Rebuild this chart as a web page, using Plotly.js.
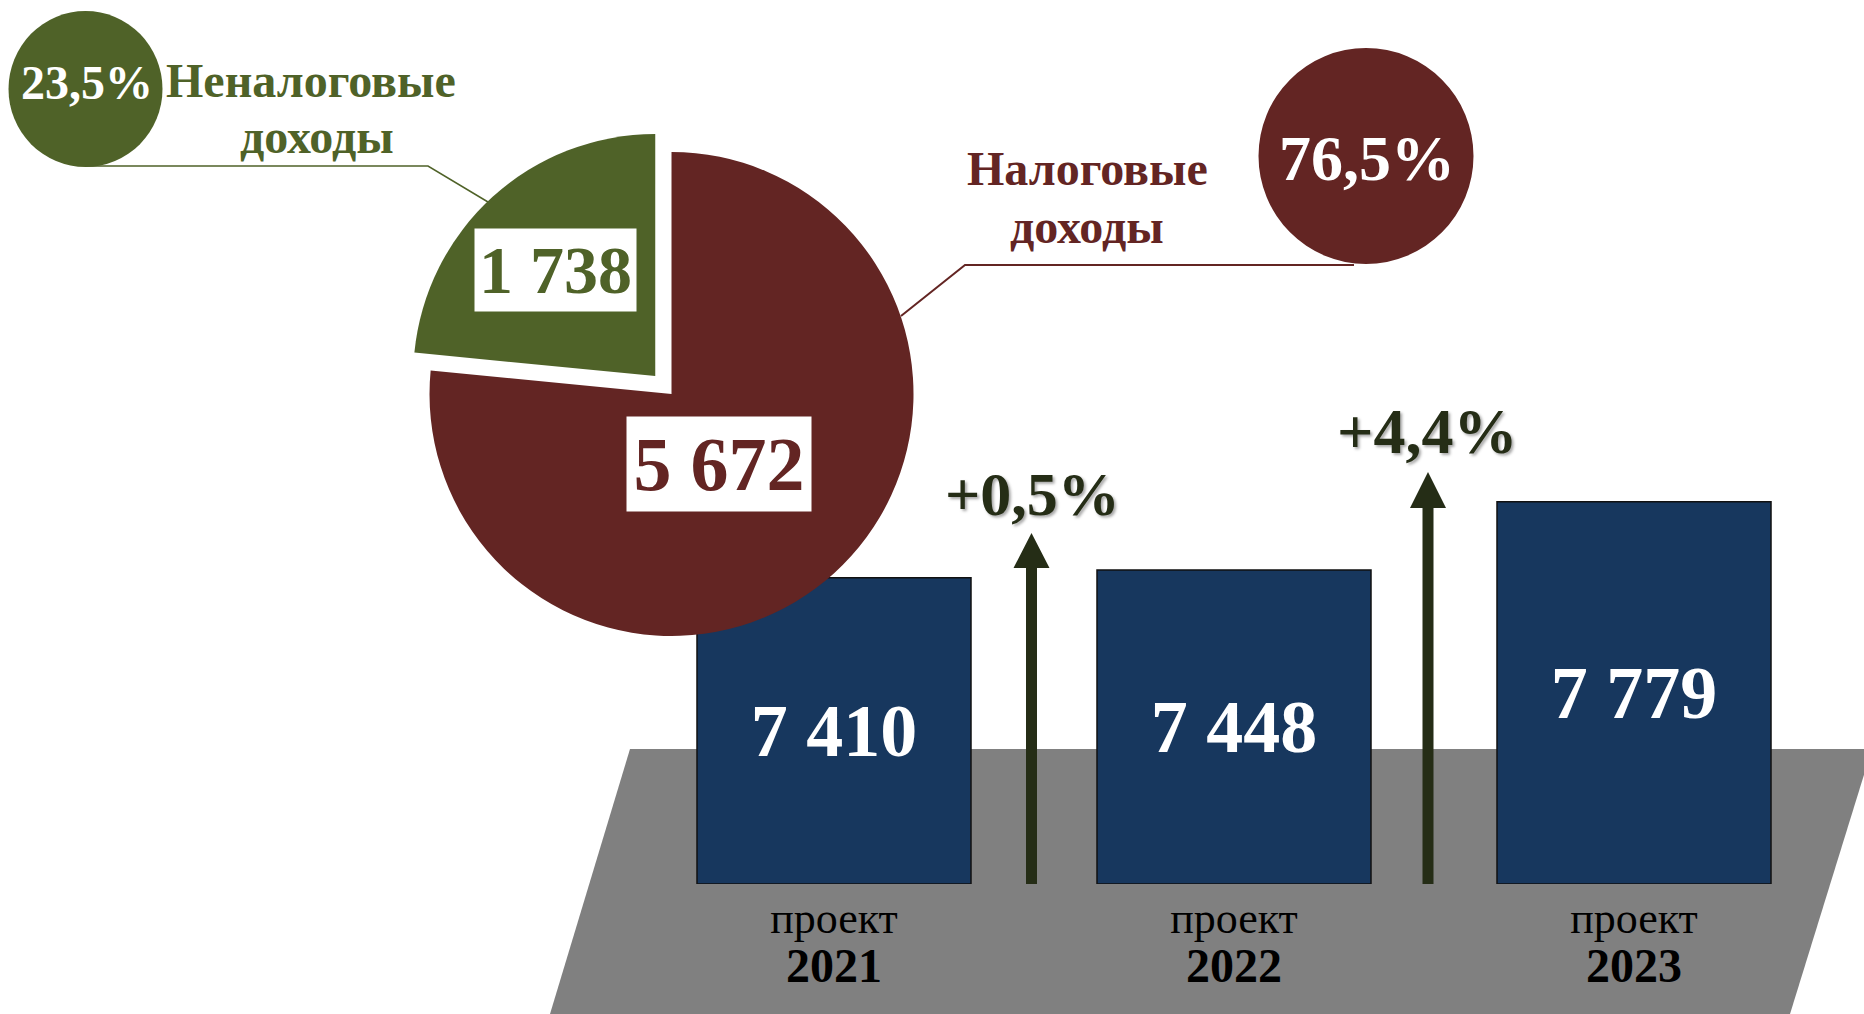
<!DOCTYPE html>
<html><head><meta charset="utf-8">
<script src="https://cdn.plot.ly/plotly-3.0.1.min.js"></script>
<style>html,body{margin:0;padding:0;background:#fff;overflow:hidden}</style>
</head><body><div id="chart" style="width:1864px;height:1014px"></div>
<script>
// ---- data ----
const pieLabels = ["Налоговые доходы", "Неналоговые доходы"];
const pieValues = [5672, 1738];
const years = ["2021", "2022", "2023"];
const yearPrefix = "проект";
const barValues = [7410, 7448, 7779];

// ---- helpers ----
const W = 1864, H = 1014;
const P = x => x / W;           // pixel x -> paper
const Q = y => 1 - y / H;       // pixel y -> paper
const fmt = v => String(v).replace(/\B(?=(\d{3})+(?!\d))/g, ' ');
const pct = v => v.toFixed(1).replace('.', ',') + '%';
const FONT = 'Liberation Serif, Times New Roman, serif';
const RED = '#632523', GREEN = '#4F6228', NAVY = '#17375E', DARK = '#252D16', GRAY = '#808080';

const pieTotal = pieValues.reduce((a, b) => a + b, 0);
const taxPct = pct(pieValues[0] / pieTotal * 100);
const nonTaxPct = pct(pieValues[1] / pieTotal * 100);
const growth = barValues.slice(1).map((v, i) => '+' + pct((v / barValues[i] - 1) * 100));

const barBase = 5925;

const pie = {
  type: 'pie', values: pieValues, labels: pieLabels, sort: false,
  direction: 'clockwise', rotation: 0, pull: [0, 0.1],
  marker: {colors: [RED, GREEN], line: {width: 0}},
  textinfo: 'none', hoverinfo: 'skip', showlegend: false,
  domain: {x: [0.21744, 0.50306], y: [0.34892, 0.87396]}
};

const bars = {
  type: 'bar', x: years, y: barValues.map(v => v - barBase), base: barBase,
  width: 0.685,
  marker: {color: NAVY, line: {color: '#111', width: 1.5}},
  text: barValues.map(fmt), textposition: 'inside', insidetextanchor: 'middle',
  textangle: 0, constraintext: 'none',
  textfont: {family: FONT, size: 74, color: '#fff', weight: 700},
  hoverinfo: 'skip', showlegend: false
};

function arrowPath(xc, yBottom, yHead, yTip) {
  const s = 5.5, h = 18;
  return `M ${P(xc - s)},${Q(yBottom)} L ${P(xc - s)},${Q(yHead)} L ${P(xc - h)},${Q(yHead)} ` +
         `L ${P(xc)},${Q(yTip)} L ${P(xc + h)},${Q(yHead)} L ${P(xc + s)},${Q(yHead)} L ${P(xc + s)},${Q(yBottom)} Z`;
}

const shapes = [
  {type: 'path', xref: 'paper', yref: 'paper', layer: 'below',
   path: `M ${P(630)},${Q(749)} L ${P(1872)},${Q(749)} L ${P(1790)},${Q(1014)} L ${P(550)},${Q(1014)} Z`,
   fillcolor: GRAY, line: {width: 0}},
  {type: 'path', xref: 'paper', yref: 'paper', path: arrowPath(1031.5, 884, 568, 533), fillcolor: DARK, line: {width: 0}},
  {type: 'path', xref: 'paper', yref: 'paper', path: arrowPath(1428, 884, 508, 472), fillcolor: DARK, line: {width: 0}},
  {type: 'circle', xref: 'paper', yref: 'paper', x0: P(8.5), x1: P(162.5), y0: Q(167), y1: Q(11), fillcolor: GREEN, line: {width: 0}},
  {type: 'circle', xref: 'paper', yref: 'paper', x0: P(1258.5), x1: P(1473.5), y0: Q(264), y1: Q(48), fillcolor: RED, line: {width: 0}},
  {type: 'path', xref: 'paper', yref: 'paper',
   path: `M ${P(85)},${Q(166)} L ${P(428)},${Q(166)} L ${P(488)},${Q(202)}`, line: {color: GREEN, width: 1.5}},
  {type: 'path', xref: 'paper', yref: 'paper',
   path: `M ${P(1354)},${Q(265)} L ${P(965)},${Q(265)} L ${P(901)},${Q(316)}`, line: {color: RED, width: 2}}
];

function ann(text, x, y, size, color, extra) {
  return Object.assign({text, x: P(x), y: Q(y), xref: 'paper', yref: 'paper', showarrow: false,
    xanchor: 'center', yanchor: 'middle',
    font: {family: FONT, size, color, weight: 700}}, extra || {});
}

const shadow = '2px 2px 3px rgba(0,0,0,0.35)';
const annotations = [
  ann(nonTaxPct, 87, 83, 48, '#fff'),
  ann('Неналоговые', 311, 81, 48, GREEN),
  ann('доходы', 317, 136, 48, GREEN),
  ann(taxPct, 1367, 158, 64, '#fff'),
  ann('Налоговые', 1087, 169, 48, RED),
  ann('доходы', 1087, 226, 48, RED),
  ann(fmt(pieValues[1]), 555.5, 270, 68, GREEN, {bgcolor: '#fff', width: 161, height: 82, borderpad: 0, valign: 'middle'}),
  ann(fmt(pieValues[0]), 719, 464, 76, RED, {bgcolor: '#fff', width: 184, height: 94, borderpad: 0, valign: 'middle'}),
  ann(growth[0], 1032, 494, 62, DARK),
  ann(growth[1], 1427, 432, 64, DARK)
];
annotations[8].font.shadow = shadow;
annotations[9].font.shadow = shadow;

const layout = {
  width: W, height: H, margin: {l: 0, r: 0, t: 0, b: 0},
  paper_bgcolor: '#fff', plot_bgcolor: 'rgba(0,0,0,0)',
  showlegend: false, bargap: 0.315,
  xaxis: {type: 'category', domain: [0.34013, 0.98391], range: [-0.5, 2.5],
    showgrid: false, zeroline: false, showline: false, ticks: '',
    tickvals: years,
    ticktext: years.map(y => `<span style="font-size:44px">${yearPrefix}</span><br><span style="font-size:48px;font-weight:bold">${y}</span>`),
    tickfont: {family: FONT, size: 38, color: '#000'}, ticklabelstandoff: 10},
  yaxis: {domain: [0.12821, 0.5502], range: [barBase, 8000], showgrid: false, zeroline: false,
    showline: false, showticklabels: false, ticks: ''},
  shapes, annotations
};

Plotly.newPlot('chart', [bars, pie], layout, {displayModeBar: false, staticPlot: true});
</script></body></html>
